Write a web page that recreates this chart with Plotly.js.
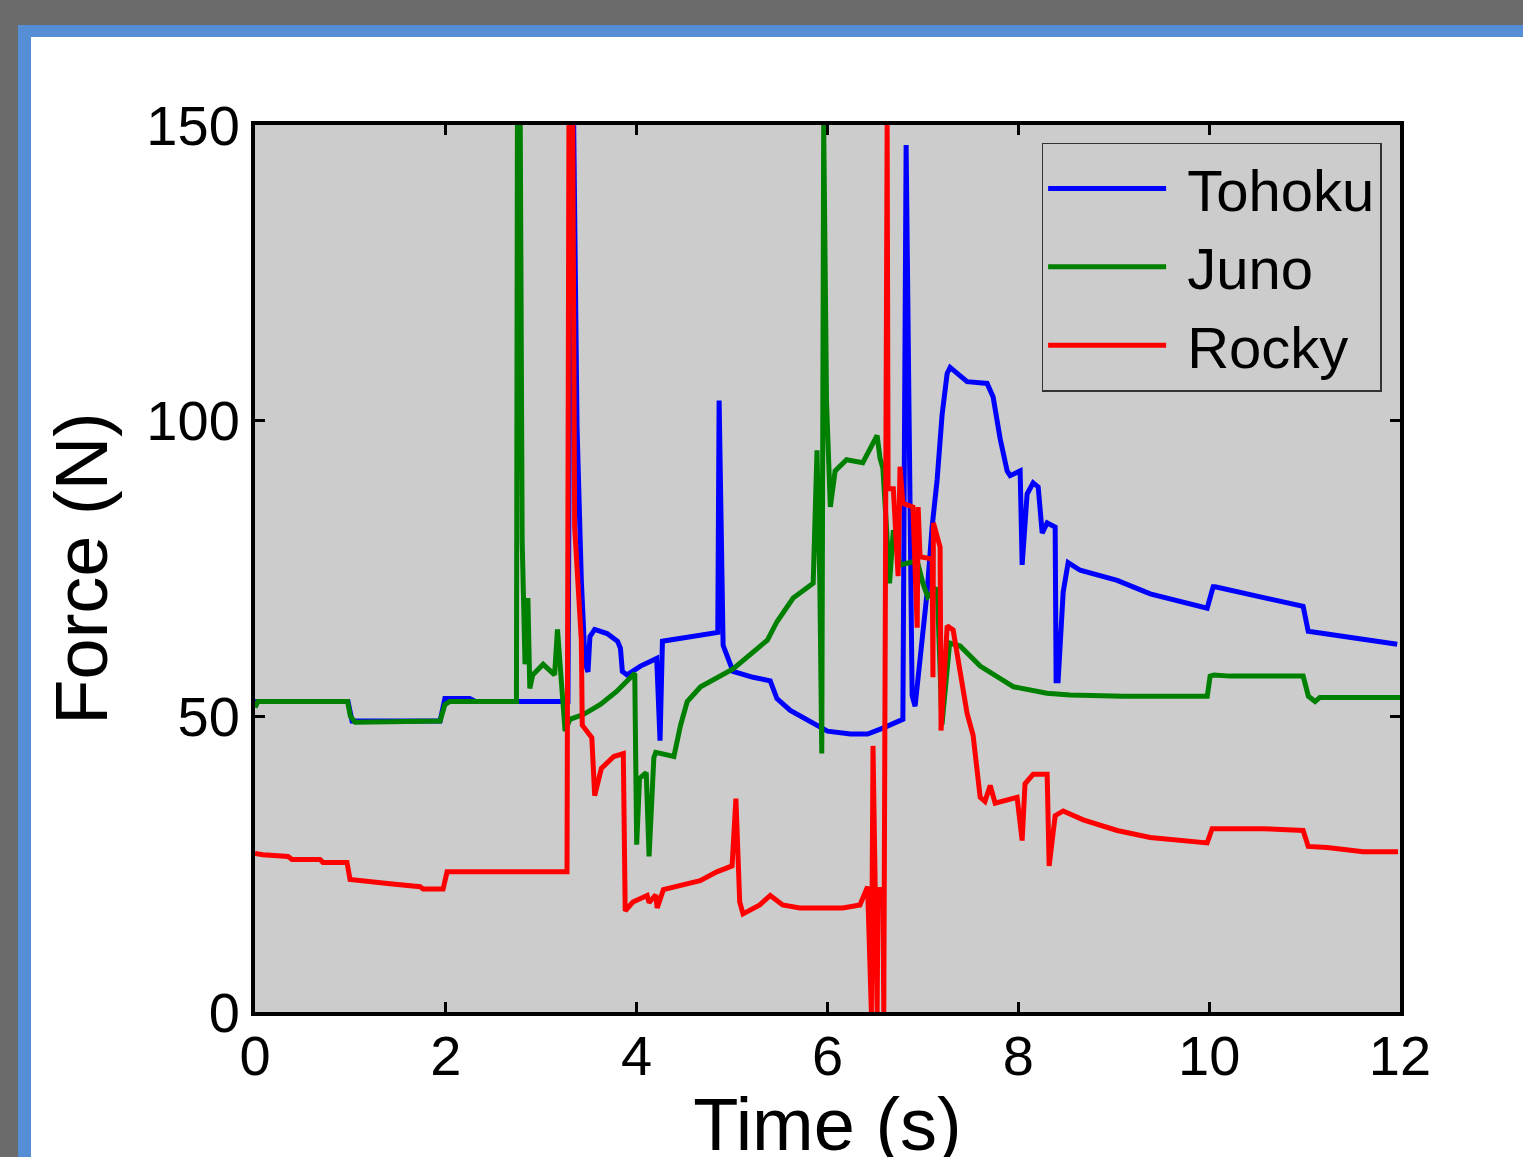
<!DOCTYPE html>
<html>
<head>
<meta charset="utf-8">
<script src="https://cdn.plot.ly/plotly-3.0.1.min.js"></script>
<style>
  html, body { margin:0; padding:0; width:1523px; height:1157px; overflow:hidden; background:#6b6b6b; }
  #blue { position:absolute; left:18px; top:25px; right:0; bottom:0; background:#558ed5; }
  #white { position:absolute; left:31px; top:37px; right:0; bottom:0; background:#ffffff; }
  #chart { position:absolute; left:0; top:0; width:1523px; height:1166px; }
</style>
</head>
<body>
<div id="blue"></div>
<div id="white"></div>
<div id="chart"></div>
<script>
// ---- data (time in s, force in N) ----
const seriesNames = ["Tohoku", "Juno", "Rocky"];

const tohokuT = [0,0.975,1.017,1.94,1.99,2.25,2.31,3.28,3.31,3.34,3.375,3.42,3.46,3.49,3.51,3.56,3.69,3.80,3.83,3.85,3.90,4.04,4.21,4.245,4.27,4.56,4.85,4.864,4.895,4.906,5.01,5.22,5.40,5.47,5.61,5.82,6.0,6.24,6.42,6.58,6.76,6.79,6.824,6.887,6.918,6.971,7.044,7.096,7.149,7.201,7.254,7.285,7.421,7.463,7.673,7.736,7.809,7.883,7.914,8.019,8.04,8.092,8.155,8.208,8.25,8.302,8.386,8.396,8.417,8.47,8.522,8.648,9.036,9.382,9.979,10.042,10.063,10.985,11.038,11.971];
const tohokuF = [52.5,52.5,49.2,49.2,53,53,52.5,52.5,150,150,99,73,59,57.5,63.5,64.7,64,62.7,61.5,57.6,57,58.5,59.8,45.9,62.7,63.5,64.2,103.4,76,62,57.6,56.6,56,53,51,49,47.5,47,47,48,49.3,49.5,146.6,53.5,51.7,59.7,71,82,90,101,108,109,107,106.6,106.3,104,97,91.5,90.7,91.5,75.6,87.6,89.5,88.8,81,82.7,82,56,56,71,76,74.7,73,70.7,68.3,71.9,71.9,68.6,64.4,62.2];

const junoT = [0,0.03,0.97,1.0,1.05,1.94,1.99,2.04,2.74,2.75,2.78,2.80,2.83,2.86,2.88,2.91,3.02,3.14,3.17,3.25,3.30,3.44,3.62,3.79,3.98,4.00,4.03,4.10,4.13,4.18,4.20,4.39,4.46,4.53,4.67,5.01,5.37,5.47,5.64,5.85,5.89,5.92,5.94,5.96,5.99,6.03,6.08,6.2,6.37,6.52,6.55,6.58,6.62,6.65,6.69,6.76,6.94,7.0,7.05,7.15,7.2,7.28,7.39,7.6,7.95,8.3,8.54,9.1,9.98,10.01,10.05,10.22,10.985,11.04,11.11,11.16,12];
const junoF = [51.5,52.5,52.5,50,49,49.2,52,52.5,52.5,150,150,79.7,58.8,70,54.7,57,58.8,57,64.7,47.5,49.5,50.3,52,54.2,57.3,28.3,39.5,40.5,26.3,43,43.9,43.2,48.5,52.5,55,58,62.9,66,70,72.5,95,72,43.7,150,103,85.4,91.5,93.4,92.9,97.5,93.7,92,81.5,72.5,81.5,75.6,76.3,72.5,70.2,71.7,48.6,62.4,61.9,58.5,55,53.9,53.6,53.4,53.4,56.8,57,56.8,56.8,53.4,52.5,53.2,53.2];

const rockyT = [0,0.084,0.346,0.388,0.681,0.713,0.964,0.996,1.415,1.73,1.761,1.971,2.013,3.27,3.29,3.33,3.35,3.39,3.42,3.43,3.53,3.56,3.63,3.76,3.86,3.88,3.96,4.11,4.13,4.2,4.215,4.28,4.53,4.665,4.84,5.0,5.04,5.08,5.115,5.29,5.4,5.53,5.71,6.16,6.34,6.42,6.46,6.477,6.52,6.53,6.58,6.59,6.625,6.635,6.69,6.74,6.76,6.79,6.895,6.94,6.95,6.97,7.097,7.105,7.11,7.18,7.19,7.254,7.317,7.463,7.526,7.6,7.65,7.705,7.757,7.987,8.04,8.07,8.155,8.302,8.323,8.386,8.47,8.68,9.036,9.382,9.979,10.031,10.566,10.985,11.038,11.237,11.614,11.98];
const rockyF = [26.8,26.6,26.3,25.8,25.8,25.3,25.3,22.4,21.7,21.2,20.8,20.8,23.7,23.7,150,150,82,72,62.9,48.5,46.4,36.6,41.2,43.2,43.7,17.1,18.6,19.7,18.5,19.8,17.6,20.7,21.7,22.2,23.7,24.7,36.1,18.6,16.6,18.1,19.7,18.1,17.6,17.6,18.1,21.2,0,45,0,20.7,20.7,0,150,88.5,88.5,73.7,92.2,86,85.4,65,85.4,77,76.6,56.6,82.7,78.6,47.6,65.3,64.6,50.5,46.8,36.3,35.6,38.3,35.3,36.3,29,38.6,40.2,40.2,24.7,33.2,34,32.5,30.7,29.5,28.6,31,31,30.7,28,27.8,27.1,27.1];

const xTicks = [0, 2, 4, 6, 8, 10, 12];
const yTicks = [0, 50, 100, 150];

// ---- figure ----
const colors = ["#0000ff", "#008000", "#ff0000"];
const xs = [tohokuT, junoT, rockyT];
const ys = [tohokuF, junoF, rockyF];
const traces = seriesNames.map((n, i) => ({
  type: "scatter", mode: "lines", name: "\u00a0" + n,
  x: xs[i], y: ys[i],
  line: { color: colors[i], width: 5 }
}));

const FONT = "Arial, 'Liberation Sans', sans-serif";
const axisCommon = {
  showline: true, linecolor: "#000", linewidth: 4, mirror: "ticks",
  ticks: "inside", ticklen: 10, tickwidth: 3, tickcolor: "#000",
  showgrid: false, zeroline: false,
  tickfont: { family: FONT, size: 56, color: "#000" }
};

const layout = {
  width: 1523, height: 1166,
  paper_bgcolor: "rgba(0,0,0,0)",
  plot_bgcolor: "#cccccc",
  margin: { l: 255, r: 123, t: 125, b: 154 },
  showlegend: true,
  legend: {
    x: 0.687, y: 0.98, xanchor: "left", yanchor: "top",
    bgcolor: "#cccccc", bordercolor: "#333", borderwidth: 1.5,
    font: { family: FONT, size: 58, color: "#000" },
    itemwidth: 118
  },
  xaxis: Object.assign({}, axisCommon, {
    range: [0, 12], tickvals: xTicks, ticktext: xTicks.map(String),
    ticklabelstandoff: -8,
    title: { text: "Time (s)", font: { family: FONT, size: 74, color: "#000" }, standoff: 45 }
  }),
  yaxis: Object.assign({}, axisCommon, {
    range: [0, 150], tickvals: yTicks, ticktext: yTicks.map(String),
    title: { text: "Force (N)", font: { family: FONT, size: 74, color: "#000" }, standoff: 15 }
  })
};

Plotly.newPlot("chart", traces, layout, { displayModeBar: false, staticPlot: true });
</script>
</body>
</html>
